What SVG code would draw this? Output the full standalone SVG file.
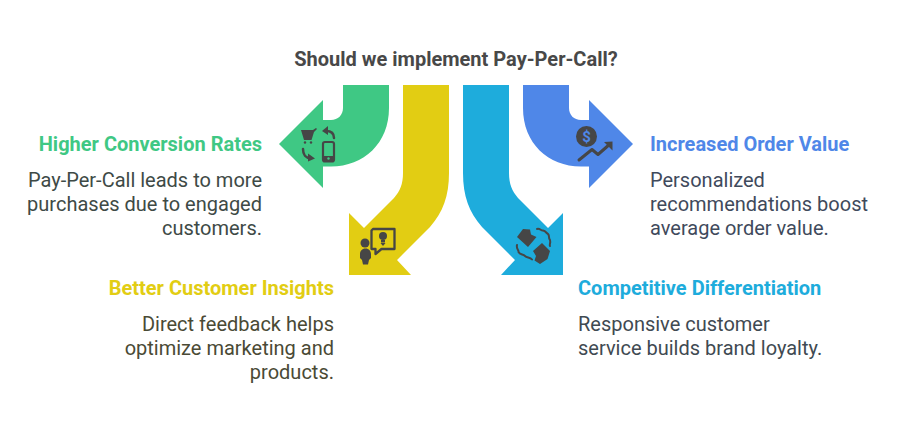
<svg xmlns="http://www.w3.org/2000/svg" width="900" height="432" viewBox="0 0 900 432">
<style>
text{font-family:Roboto,"Liberation Sans",sans-serif}
.h{font-size:20px;font-weight:700;text-anchor:middle;fill:#484848}
.t{font-size:20px;font-weight:700}
.b{font-size:20px}
.e{text-anchor:end}
.i{fill:#464646;stroke:none}
.l{fill:none;stroke:#464646;stroke-linecap:round;stroke-linejoin:round}
</style>
<rect width="900" height="432" fill="#fff"/>
<text class="h" x="456" y="66">Should we implement Pay-Per-Call?</text>
<g id="connectors"/>
<g id="node-conversion">
<path d="M343 85H389V108C389 143 364 166.500 331 166.500H323V188L279 144L323 100V120H331C338 120 343 115 343 108Z" fill="#3FC884"/>
<g>
<path class="i" d="M301 130H313L316 128L317 129L314 132L311.500 140H304Z"/>
<circle class="i" cx="305" cy="142.500" r="1.200"/><circle class="i" cx="311" cy="142.500" r="1.200"/>
<path class="l" stroke-width="2.500" d="M334 138C334 133 331 131 326 131"/>
<path class="i" d="M322 131L328 126V135Z"/>
<path class="l" stroke-width="2.500" d="M303 149C303 155 306 158 310 158"/>
<path class="i" d="M315 158.500L308 153.500L308 161.500Z"/>
<rect x="323" y="142" width="11" height="19.500" rx="2" fill="none" stroke="#464646" stroke-width="2.200"/>
<rect class="i" x="323" y="156" width="11" height="5.500"/>
<circle cx="328.500" cy="158.500" r="1.200" fill="#3FC884"/>
</g>
<text class="t e" x="262" y="151" fill="#3FC884">Higher Conversion Rates</text>
<text class="b e" fill="#3E4A46"><tspan x="262" y="187">Pay-Per-Call leads to more</tspan><tspan x="262" y="211">purchases due to engaged</tspan><tspan x="262" y="235">customers.</tspan></text>
</g>
<g id="node-insights">
<path d="M403 85H449V173C449 196 443 212 430 227L397 260L411 275H349V213L364 228L394 198C400 191 403 184 403 173Z" fill="#E2CD13"/>
<g>
<circle class="i" cx="365" cy="243" r="4.500"/>
<path class="i" d="M365.500 248.500C362 248.500 360 251 360 254V258L362 260L363 264.500H368L369 260L371 258V254C371 251 369 248.500 365.500 248.500Z"/>
<path fill="none" stroke="#464646" stroke-width="2.300" stroke-linejoin="round" d="M373 229H394.500V249H381.500L375.500 254V249H371.500V230.500Z"/>
<circle class="i" cx="383" cy="236" r="4"/>
<rect class="i" x="381" y="240" width="4" height="2.500"/>
<path class="i" d="M380.500 243H385.500L383 246Z"/>
</g>
<text class="t e" x="334" y="295" fill="#E2CD13">Better Customer Insights</text>
<text class="b e" fill="#4A4A35"><tspan x="334" y="331">Direct feedback helps</tspan><tspan x="334" y="355">optimize marketing and</tspan><tspan x="334" y="379">products.</tspan></text>
</g>
<g id="node-differentiation">
<path d="M463 85H509V173C509 184 512 191 518 198L548 228L563 213V275H501L515 260L482 227C469 212 463 196 463 173Z" fill="#1EACDC"/>
<g>
<path class="i" d="M523 229L530 229.500L531 234.500L536.500 237L528 247L517 237Z"/>
<path class="i" d="M542 243L550 251L547.500 259L540 264L534.500 260.500L536 256L533 251Z"/>
<path class="l" stroke-width="2" d="M537 229C540 228 541 231 543 230.500C546 231 546 233 548 234C550 236 548 238 550 240C551 243 549 245 550 246"/>
<path class="l" stroke-width="2" d="M517 245C516 249 519 250 518.500 252C520 255 523 254 525 256C527 258 530 257 532 259.500"/>
</g>
<text class="t" x="578" y="295" fill="#1EACDC">Competitive Differentiation</text>
<text class="b" fill="#3F4A52"><tspan x="578" y="331">Responsive customer</tspan><tspan x="578" y="355">service builds brand loyalty.</tspan></text>
</g>
<g id="node-order">
<path d="M523 85H569V108C569 115 574 120 581 120H589V100L633 144L589 188V166.500H581C548 166.500 523 143 523 108Z" fill="#4F87E8"/>
<g>
<circle class="i" cx="586.500" cy="136.500" r="10.500"/>
<text x="586.500" y="142" text-anchor="middle" fill="#4F87E8" style="font-size:15px;font-weight:700">$</text>
<path class="l" stroke-width="3" d="M579 160L592 149.500L598 154.500L610 144"/>
<path class="i" d="M604 142L612.500 141.500L612.500 150.500Z"/>
</g>
<text class="t" x="650" y="151" fill="#4F87E8">Increased Order Value</text>
<text class="b" fill="#3F4A5C"><tspan x="650" y="187">Personalized</tspan><tspan x="650" y="211">recommendations boost</tspan><tspan x="650" y="235">average order value.</tspan></text>
</g>
</svg>
